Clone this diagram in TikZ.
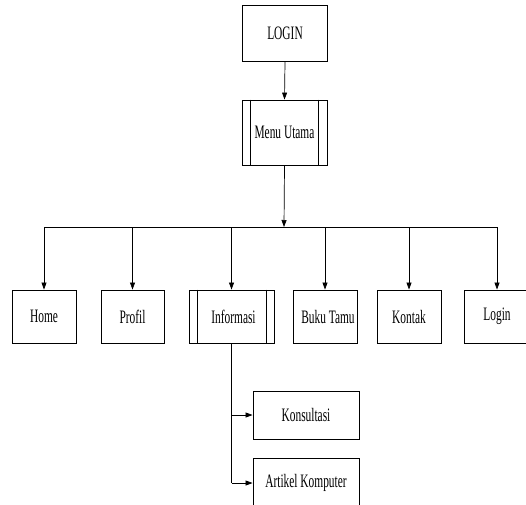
\documentclass[tikz,border=0pt]{standalone}
\usepackage{fontspec}
\newfontfamily\chartfont[FakeStretch=0.6]{Liberation Serif}
\usetikzlibrary{arrows.meta}

\tikzset{
  box/.style={draw, line width=0.9pt, minimum height=53pt, inner sep=0pt,
    font=\chartfont\fontsize{19}{19}\selectfont},
  arr/.style={-{Triangle[length=7pt,width=5pt]}, line width=0.7pt}
}

\begin{document}
\begin{tikzpicture}[x=1pt,y=-1pt]
	\useasboundingbox (0,0) rectangle (526,504);
	
	\node[box, minimum width=85pt, minimum height=56pt] (login) at (285,33.5) {LOGIN};
	\node[box, minimum width=85pt, minimum height=65pt] (menu) at (284.5,132.5) {Menu Utama};
	\draw[line width=0.9pt] ([xshift=9pt]menu.north west)--([xshift=9pt]menu.south west);
	\draw[line width=0.9pt] ([xshift=-9pt]menu.north east)--([xshift=-9pt]menu.south east);
	
	\node[box, minimum width=64pt] (home) at (44,316.5) {Home};
	\node[box, minimum width=63pt] (profil) at (132.5,316.5) {Profil};
	\node[box, minimum width=85pt] (informasi) at (231.5,316.5) {\hspace{4pt}Informasi};
	\draw[line width=0.9pt] ([xshift=9pt]informasi.north west)--([xshift=9pt]informasi.south west);
	\draw[line width=0.9pt] ([xshift=-8pt]informasi.north east)--([xshift=-8pt]informasi.south east);
	\node[box, minimum width=64pt] (bukutamu) at (325,316.5) {\hspace{6pt}Buku Tamu};
	\node[box, minimum width=64pt] (kontak) at (409,316.5) {Kontak};
	\node[box, minimum width=66pt] (loginitem) at (497,316.5) {Login};
	
	\node[box, minimum width=106pt, minimum height=48pt] (konsultasi) at (306,415) {Konsultasi};
	\node[box, minimum width=106pt, minimum height=50pt] (artikel) at (306,483) {Artikel Komputer};
	
	% main flow
	\draw[arr] (login.south)--(menu.south |- menu.north);
	\coordinate (bus) at (284,227);
	\draw[arr] (menu.south)--(bus);
	\draw[line width=0.9pt] (home.north |- bus)--(loginitem.north |- bus);
	\foreach \n in {home,profil,informasi,bukutamu,kontak,loginitem}
		\draw[arr] (\n.north |- bus)--(\n.north);
	
	% sub menu informasi
	\draw[line width=0.7pt] (informasi.south)--(informasi.south |- artikel.west);
	\draw[arr] (informasi.south |- konsultasi.west)--(konsultasi.west);
	\draw[arr] (informasi.south |- artikel.west)--(artikel.west);
\end{tikzpicture}
\end{document}
